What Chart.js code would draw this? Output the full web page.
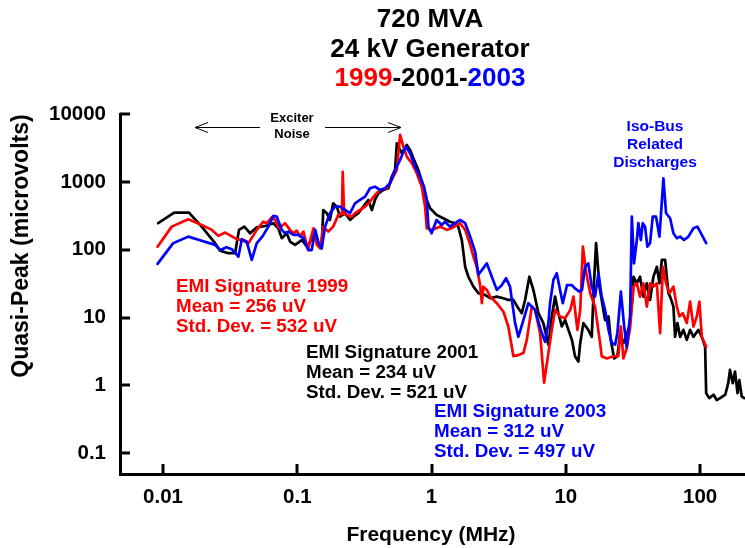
<!DOCTYPE html>
<html><head><meta charset="utf-8">
<script src="https://cdn.jsdelivr.net/npm/chart.js@4.4.0/dist/chart.umd.min.js"></script>
<style>html,body{margin:0;padding:0;background:#fff;}#wrap{width:745px;height:548px;}</style>
</head><body><div id="wrap"><canvas id="c" width="745" height="548"></canvas></div>
<script>
// ---- tick values ----
const xTicks = [0.01, 0.1, 1, 10, 100];
const yTicks = [0.1, 1, 10, 100, 1000, 10000];

// ---- 1999 (red) ----
const freq1999 = [0.0091,0.0116,0.0154,0.0194,0.0231,0.0258,0.029,0.0354,0.0386,0.0432,0.0499,0.0558,0.0592,0.0645,0.0683,0.0731,0.0811,0.0883,0.0935,0.0991,0.105,0.111,0.12,0.127,0.132,0.14,0.148,0.156,0.17,0.185,0.202,0.215,0.218,0.223,0.234,0.254,0.269,0.293,0.32,0.348,0.379,0.413,0.464,0.505,0.551,0.583,0.617,0.654,0.712,0.776,0.845,0.895,0.921,1.0,1.16,1.3,1.45,1.63,1.78,1.94,2.05,2.17,2.3,2.37,2.43,2.58,2.73,3.06,3.43,3.73,4.07,4.43,4.83,5.12,5.58,5.9,6.43,6.89,7.41,7.86,8.32,9.06,9.87,10.8,11.4,12.2,12.8,13.4,14.2,15.2,16.5,18.0,18.5,20.2,22.6,24.6,25.7,26.8,28.4,30.1,31.9,33.8,35.7,37.8,40.1,42.4,44.9,47.6,50.4,52.8,55.8,59.1,63.3,67.1,70.1,74.3,79.6,84.2,89.2,94.5,98.8,103,111];
const val1999 = [111,219,281,232,196,160,179,143,139,125,196,259,246,301,275,207,246,196,175,191,156,185,99,156,207,118,105,219,185,219,326,340,1410,340,326,307,345,385,431,511,641,760,805,1070,1500,4910,3300,2350,1880,1340,849,431,207,196,219,196,214,246,196,118,79,56,30,16.3,28.6,25.6,20.4,16.3,12.2,7.4,2.7,2.8,3.0,4.7,14.5,13.0,5.9,1.1,3.0,6.6,13.0,10.4,9.8,13.0,20.4,6.6,13.0,111,45,22.9,14.5,4.2,2.7,2.5,2.7,2.7,7.4,2.5,3.5,7,28.6,32,20.4,32,14.5,32,28.6,32,5.9,56,32,22.9,28.6,14.5,10.4,11.6,8.3,17.2,7.4,10.4,17.2,5.2,3.7];

// ---- 2001 (black) ----
const freq2001 = [0.0092,0.0121,0.0156,0.0194,0.0244,0.0266,0.0306,0.0344,0.0368,0.0403,0.0445,0.0499,0.0575,0.0663,0.0722,0.0766,0.0834,0.0883,0.0962,0.108,0.118,0.132,0.148,0.152,0.156,0.166,0.175,0.185,0.197,0.208,0.227,0.247,0.262,0.285,0.31,0.338,0.359,0.379,0.402,0.438,0.477,0.505,0.535,0.551,0.566,0.6,0.654,0.692,0.732,0.797,0.869,0.921,0.975,1.09,1.22,1.37,1.5,1.58,1.68,1.78,1.88,2.05,2.23,2.5,2.73,3.06,3.43,3.73,4.07,4.43,4.7,4.97,5.35,5.73,6.25,6.8,7.41,7.86,8.32,8.8,9.33,9.87,10.45,11.1,11.7,12.4,12.8,13.5,14.7,15.6,16.2,16.8,17.8,18.5,19.6,20.8,21.6,22.9,24.2,25.4,26.8,28.1,29.7,31.5,31.9,33.8,35.7,37.8,40.1,42.4,44.9,47.6,49.8,51.9,54.9,58.1,59.8,63.3,65.1,67.8,71,75.1,79.6,84.2,89.2,97.1,103,109,111,117,126,133,141,154,162,167,175,182,190,196,204,213];
const val2001 = [246,352,352,219,125,97,89,89,196,219,175,214,224,246,207,148,175,132,118,139,111,156,111,105,385,345,275,484,431,307,345,275,307,345,431,541,385,541,679,760,805,1190,1500,3700,3300,2640,3490,2950,2230,1500,849,541,408,326,291,259,246,219,139,56,40,28.6,22.9,21.6,19.3,20.4,19.3,18.2,18.2,13.7,11.6,18.2,40,25.6,11.6,8.3,4.0,10.4,20.4,11.6,7.4,9.2,6.6,4.7,2.7,2.25,4.2,8.3,6.6,5.2,32,125,28.6,18.2,9.2,10.4,4.7,2.5,2.7,5.9,4.2,5.2,7.4,20.4,40,32,40,20.4,32,18.2,40,56,32,71,71,22.9,20.4,14.5,5.2,8.3,5.2,6.6,4.7,6.6,5.2,6.6,5.2,3.7,0.77,0.65,0.73,0.61,0.65,0.73,1.08,1.7,1.08,1.6,0.77,1.2,0.69,0.65];

// ---- 2003 (blue) ----
const freq2003 = [0.0091,0.0119,0.0154,0.0194,0.0244,0.0266,0.0298,0.0325,0.0364,0.0386,0.042,0.0458,0.0499,0.0549,0.0609,0.0663,0.0703,0.0766,0.0811,0.0858,0.0935,0.102,0.111,0.121,0.128,0.136,0.144,0.152,0.161,0.175,0.191,0.208,0.227,0.247,0.269,0.293,0.32,0.348,0.379,0.413,0.45,0.491,0.535,0.583,0.617,0.646,0.692,0.754,0.821,0.879,0.921,0.947,1.0,1.09,1.19,1.26,1.37,1.5,1.63,1.78,1.94,2.11,2.23,2.37,2.58,2.81,3.06,3.33,3.59,3.84,4.19,4.43,4.83,5.26,5.9,6.51,7.0,7.41,7.63,8.08,8.56,9.06,9.49,10.2,11.1,11.7,12.6,13.2,13.9,14.7,15.6,16.5,17.5,18.5,19.6,20.8,22.0,23.3,24.2,25.7,27.2,28.4,30.1,31.0,32.2,33.8,34.7,36.2,37.4,38.9,40.5,42.4,44.4,47.0,49.8,51.0,53.3,55.8,59.8,63.3,67.1,71.0,76.0,81.8,89.2,95.5,103,111];
const val2003 = [62,125,156,136,118,99,109,102,79,143,132,71,125,156,219,315,307,196,175,185,166,166,148,99,99,196,125,105,219,345,431,431,385,345,484,541,605,805,849,760,805,953,1500,2100,2790,3300,2640,1670,1190,849,541,219,175,275,232,259,219,246,275,246,156,94,43,50,63,40,25.6,30,38,28.6,8.3,5.2,9.2,16.3,13.0,6.6,4.4,8.3,16.3,36,45,25.6,16.3,30,30,27,24.1,25.6,56,63,28.6,20.4,45,20.4,13.0,6.6,4.2,4.0,5.9,24.1,7.4,3.7,10.4,307,63,139,246,139,246,219,111,125,307,307,156,307,1130,345,291,175,148,156,139,156,207,219,166,125];

const FONT = '"Liberation Sans", Arial, sans-serif';
const fnt = (s) => 'bold ' + s + 'px ' + FONT;

const mk = (fs, vs) => fs.map((f, i) => ({x: f, y: vs[i]}));

const annot = {
  id: 'annot',
  afterDraw(chart) {
    const ctx = chart.ctx, xs = chart.scales.x, ys = chart.scales.y, ca = chart.chartArea;
    ctx.save();
    // inward tick marks
    ctx.strokeStyle = '#000'; ctx.lineWidth = 3;
    yTicks.forEach(v => { const p = Math.round(ys.getPixelForValue(v)); ctx.beginPath(); ctx.moveTo(ca.left, p); ctx.lineTo(ca.left + 10, p); ctx.stroke(); });
    xTicks.forEach(v => { const p = Math.round(xs.getPixelForValue(v)); ctx.beginPath(); ctx.moveTo(p, ca.bottom); ctx.lineTo(p, ca.bottom - 10); ctx.stroke(); });

    // title
    ctx.textBaseline = 'middle'; ctx.textAlign = 'center'; ctx.fillStyle = '#000';
    ctx.font = fnt(26);
    ctx.fillText('720 MVA', 430, 20);
    ctx.fillText('24 kV Generator', 430, 50);
    const parts = [['1999', '#ff0000'], ['-2001-', '#000000'], ['2003', '#0000ff']];
    const tw = parts.reduce((s, p) => s + ctx.measureText(p[0]).width, 0);
    let x0 = 430 - tw / 2; ctx.textAlign = 'left';
    parts.forEach(p => { ctx.fillStyle = p[1]; ctx.fillText(p[0], x0, 79); x0 += ctx.measureText(p[0]).width; });

    // axis titles
    ctx.fillStyle = '#000'; ctx.textAlign = 'center'; ctx.font = fnt(21);
    ctx.fillText('Frequency (MHz)', 431, 535);
    ctx.font = fnt(23);
    ctx.save(); ctx.translate(22, 246); ctx.rotate(-Math.PI / 2);
    ctx.fillText('Quasi-Peak (microvolts)', 0, 0); ctx.restore();

    // exciter noise
    ctx.font = fnt(13);
    ctx.fillText('Exciter', 292, 118); ctx.fillText('Noise', 292, 134);
    ctx.lineWidth = 1; ctx.strokeStyle = '#000';
    ctx.beginPath();
    ctx.moveTo(260, 127.5); ctx.lineTo(195, 127.5);
    ctx.moveTo(208, 122.5); ctx.lineTo(195, 127.5); ctx.lineTo(208, 132.5);
    ctx.moveTo(325, 127.5); ctx.lineTo(401, 127.5);
    ctx.moveTo(388, 122.5); ctx.lineTo(401, 127.5); ctx.lineTo(388, 132.5);
    ctx.stroke();

    // iso-bus
    ctx.fillStyle = '#0000ff'; ctx.font = fnt(15.5);
    ctx.fillText('Iso-Bus', 655, 127); ctx.fillText('Related', 655, 145); ctx.fillText('Discharges', 655, 163);

    // EMI signatures
    ctx.textAlign = 'left'; ctx.font = fnt(18.8);
    const blocks = [
      ['#ff0000', 176, 287, ['EMI Signature 1999', 'Mean = 256 uV', 'Std. Dev. = 532 uV']],
      ['#000000', 306, 353, ['EMI Signature 2001', 'Mean = 234 uV', 'Std. Dev. = 521 uV']],
      ['#0000ff', 434, 412, ['EMI Signature 2003', 'Mean = 312 uV', 'Std. Dev. = 497 uV']]
    ];
    blocks.forEach(b => { ctx.fillStyle = b[0]; b[3].forEach((t, i) => ctx.fillText(t, b[1], b[2] + i * 20)); });
    ctx.restore();
  }
};

new Chart(document.getElementById('c'), {
  type: 'line',
  data: {
    datasets: [
      {label: '2003', data: mk(freq2003, val2003), borderColor: '#0000ff'},
      {label: '1999', data: mk(freq1999, val1999), borderColor: '#ff0000'},
      {label: '2001', data: mk(freq2001, val2001), borderColor: '#000000'}
    ]
  },
  options: {
    responsive: false, animation: false, devicePixelRatio: 1,
    elements: {point: {radius: 0}, line: {borderWidth: 2.7, tension: 0, borderJoinStyle: 'round', borderCapStyle: 'round'}},
    layout: {padding: {top: 114, left: 0, right: 0, bottom: 0}},
    plugins: {legend: {display: false}, tooltip: {enabled: false}, title: {display: false}},
    scales: {
      x: {
        type: 'logarithmic', min: 0.00478, max: 216,
        afterFit: s => { s.height = 74; },
        afterBuildTicks: s => { s.ticks = xTicks.map(v => ({value: v})); },
        grid: {display: false, drawTicks: false},
        border: {display: true, color: '#000', width: 3},
        ticks: {padding: 11, color: '#000', font: {family: FONT, size: 20.5, weight: 'bold'}, maxRotation: 0, autoSkip: false, callback: v => String(v)}
      },
      y: {
        type: 'logarithmic', min: 0.0496, max: 10000,
        afterFit: s => { s.width = 120; },
        afterBuildTicks: s => { s.ticks = yTicks.map(v => ({value: v})); },
        grid: {display: false, drawTicks: false},
        border: {display: true, color: '#000', width: 3},
        ticks: {padding: 14, color: '#000', font: {family: FONT, size: 20.5, weight: 'bold'}, autoSkip: false, callback: v => String(v)}
      }
    }
  },
  plugins: [annot]
});
</script>
</body></html>
